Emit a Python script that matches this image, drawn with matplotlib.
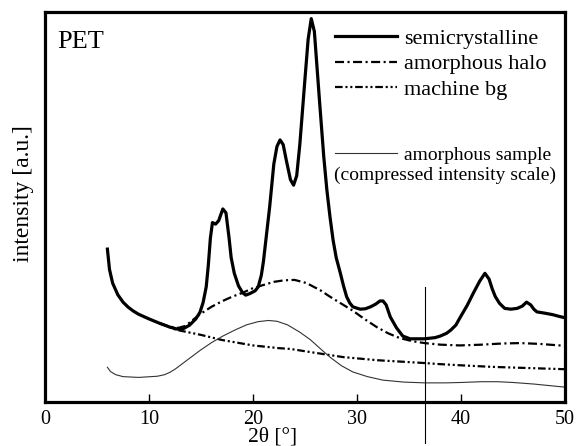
import matplotlib
matplotlib.use("Agg")
import matplotlib.pyplot as plt
from matplotlib.lines import Line2D

plt.rcParams['font.family'] = ['Liberation Serif', 'DejaVu Serif']
plt.rcParams['lines.scale_dashes'] = False

# semicrystalline PET (2theta, intensity)
semi_x = [6.0, 6.2, 6.5, 7.0, 7.5, 8.0, 8.5, 9.0, 10.0, 11.0, 12.0, 12.7, 13.3, 13.9,
          14.5, 14.9, 15.2, 15.5, 15.7, 15.9, 16.1, 16.4, 16.7, 17.1, 17.4, 17.7, 17.9,
          18.2, 18.6, 19.0, 19.3, 19.7, 20.2, 20.5, 20.8, 21.0, 21.3, 21.6, 22.0, 22.3,
          22.6, 22.9, 23.2, 23.6, 23.9, 24.2, 24.5, 25.0, 25.3, 25.6, 25.9, 26.4, 26.8,
          27.1, 27.4, 27.7, 28.0, 28.4, 28.7, 29.0, 29.3, 29.6, 30.3, 30.8, 31.3, 31.8,
          32.2, 32.5, 32.8, 33.2, 33.8, 34.4, 35.1, 36.5, 37.5, 38.0, 38.6, 39.0, 39.5,
          39.9, 40.6, 41.2, 41.8, 42.3, 42.7, 43.0, 43.3, 43.7, 44.2, 44.8, 45.4, 45.9,
          46.3, 46.7, 47.0, 47.3, 48.0, 48.8, 49.5, 50.0]
semi_y = [39.2, 34.0, 30.5, 27.5, 25.6, 24.3, 23.3, 22.5, 21.3, 20.2, 19.2, 18.7, 18.8, 19.7,
          21.3, 23.0, 25.5, 29.5, 35.0, 42.0, 46.0, 45.6, 46.5, 49.5, 48.5, 42.0, 37.0,
          33.0, 29.8, 28.0, 27.4, 27.8, 28.5, 29.5, 32.5, 36.0, 43.0, 50.0, 61.0, 65.5,
          67.2, 66.0, 62.0, 57.0, 55.6, 58.0, 66.0, 83.0, 93.0, 98.3, 95.0, 77.0, 63.0,
          54.4, 47.5, 41.5, 37.0, 33.0, 29.8, 27.0, 25.4, 24.4, 23.8, 23.9, 24.4, 25.1,
          25.9, 25.9, 24.9, 21.8, 19.0, 16.9, 16.2, 16.2, 16.5, 16.9, 17.6, 18.4, 19.7,
          21.6, 24.8, 28.0, 31.0, 33.0, 31.5, 29.0, 27.0, 25.3, 24.0, 23.8, 24.0, 24.6,
          25.6, 24.9, 23.8, 23.1, 22.8, 22.4, 21.9, 21.6]

# amorphous halo
halo_x = [11.0, 12.0, 12.8, 13.5, 14.9, 16.0, 17.0, 18.0, 19.0, 20.0, 21.0, 22.0, 23.0,
          24.0, 25.0, 25.5, 26.5, 27.4, 28.5, 29.6, 30.7, 31.9, 33.0, 34.1, 35.3,
          36.5, 38.0, 39.9, 42.0, 44.0, 45.7, 47.5, 50.0]
halo_y = [20.2, 19.3, 19.0, 19.5, 22.5, 24.4, 25.8, 27.0, 28.0, 29.2, 30.0, 30.8, 31.2,
          31.3, 30.6, 30.0, 28.6, 27.0, 25.2, 23.4, 21.3, 19.2, 17.6, 16.4, 15.6,
          15.1, 14.7, 14.5, 14.7, 15.0, 15.1, 14.9, 14.4]

# machine background
bg_x = [11.0, 12.0, 12.5, 13.0, 15.0, 17.0, 20.0, 22.5, 23.6, 25.5, 28.7, 32.0, 36.4,
        38.0, 40.0, 43.0, 46.5, 50.0]
bg_y = [20.2, 19.2, 18.6, 18.3, 17.2, 15.9, 14.5, 13.8, 13.6, 12.8, 11.5, 10.7, 10.0,
        9.7, 9.4, 9.0, 8.7, 8.4]

# amorphous sample (compressed scale)
amor_x = [6.0, 6.3, 6.8, 7.5, 9.0, 10.8, 11.5, 12.0, 12.5, 13.0, 13.5, 14.9, 16.0, 17.1,
          18.3, 19.4, 20.5, 21.5, 22.3, 23.3, 24.5, 25.5, 26.5, 27.4, 28.5, 29.6, 31.0,
          32.5, 34.5, 36.5, 38.5, 40.0, 42.0, 43.5, 45.0, 47.0, 48.5, 50.0]
amor_y = [8.9, 7.8, 7.0, 6.5, 6.3, 6.6, 7.0, 7.6, 8.4, 9.4, 10.4, 13.2, 15.2, 16.9,
          18.5, 19.8, 20.6, 20.9, 20.7, 19.8, 17.9, 16.0, 13.6, 11.5, 9.3, 7.7, 6.5,
          5.6, 5.1, 4.9, 4.9, 5.0, 5.2, 5.2, 5.0, 4.6, 4.2, 3.8]

marker_x = 36.5
marker_y = [29.5, -10.5]

xticks = [0, 10, 20, 30, 40, 50]

halo_dash = (0, (6.5, 2.5, 1.5, 2.5))
bg_dash = (0, (5.5, 2.0, 1.5, 2.0, 1.5, 2.0))

fig = plt.figure(figsize=(5.86, 4.46), dpi=100)
ax = fig.add_axes([0.0768, 0.0987, 0.8874, 0.8744])

ax.plot(semi_x, semi_y, color='black', lw=2.3, solid_joinstyle='round')
ax.plot(halo_x, halo_y, color='black', lw=1.6, linestyle=halo_dash)
ax.plot(bg_x, bg_y, color='black', lw=1.6, linestyle=bg_dash)
ax.plot(amor_x, amor_y, color='#333333', lw=0.8)
ax.plot([marker_x, marker_x], marker_y, color='black', lw=0.8, clip_on=False)

ax.set_xlim(0, 50)
ax.set_ylim(0, 100)
ax.set_xticks(xticks)
ax.set_xticklabels([str(t) for t in xticks])
ax.set_yticks([])
ax.tick_params(axis='x', direction='in', length=6, width=1, pad=6, labelsize=14.5)
for sp in ax.spines.values():
    sp.set_linewidth(2.3)

h1 = [Line2D([], [], color='black', lw=2.3),
      Line2D([], [], color='black', lw=1.6, linestyle=halo_dash),
      Line2D([], [], color='black', lw=1.6, linestyle=bg_dash)]
leg1 = ax.legend(h1, ['semicrystalline', 'amorphous halo', 'machine bg'],
                 loc='upper left', bbox_to_anchor=(0.558, 0.958), frameon=False,
                 fontsize=16, handlelength=2.8, handletextpad=0.3, labelspacing=0.22,
                 borderpad=0, borderaxespad=0)
ax.add_artist(leg1)
h2 = [Line2D([], [], color='#333333', lw=0.8)]
ax.legend(h2, ['amorphous sample'], loc='upper left', bbox_to_anchor=(0.558, 0.655),
          frameon=False, fontsize=14, handlelength=3.2, handletextpad=0.35,
          borderpad=0, borderaxespad=0)
ax.text(0.556, 0.582, '(compressed intensity scale)', transform=ax.transAxes,
        fontsize=14, ha='left', va='center')

ax.text(0.023, 0.923, 'PET', transform=ax.transAxes, fontsize=19, ha='left', va='center')

fig.text(23 / 586, 0.567, 'intensity [a.u.]', rotation=90, fontsize=17,
         ha='center', va='center')
fig.text(273 / 586, 0.02, '2θ [°]', fontsize=15.5, ha='center', va='center')

fig.savefig('out.png', dpi=100)
